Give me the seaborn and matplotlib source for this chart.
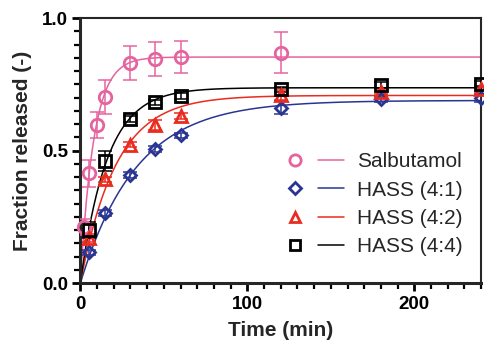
import matplotlib
matplotlib.use('Agg')
import matplotlib.pyplot as plt
from matplotlib.lines import Line2D
from matplotlib.legend_handler import HandlerTuple
from matplotlib.ticker import MultipleLocator, FormatStrFormatter
import numpy as np
import pandas as pd
import seaborn as sns

# release data
t_salb = [2, 5, 10, 15, 30, 45, 60, 120]
y_salb = [0.212, 0.414, 0.596, 0.703, 0.831, 0.845, 0.854, 0.870]
e_salb = [0.03, 0.05, 0.048, 0.064, 0.065, 0.064, 0.06, 0.077]

t_hass = [5, 15, 30, 45, 60, 120, 180, 240]
y_41 = [0.116, 0.265, 0.408, 0.506, 0.558, 0.662, 0.693, 0.699]
e_41 = [0.01, 0.01, 0.01, 0.01, 0.01, 0.025, 0.01, 0.015]
y_42 = [0.171, 0.391, 0.523, 0.596, 0.631, 0.709, 0.722, 0.731]
e_42 = [0.015, 0.01, 0.01, 0.02, 0.01, 0.02, 0.01, 0.01]
y_44 = [0.20, 0.46, 0.619, 0.682, 0.706, 0.731, 0.747, 0.753]
e_44 = [0.03, 0.038, 0.01, 0.01, 0.01, 0.01, 0.01, 0.01]

names = ['Salbutamol', 'HASS (4:1)', 'HASS (4:2)', 'HASS (4:4)']
colors = ['#e5649f', '#2a3593', '#ea2b1f', '#000000']
markers = ['o', 'D', '^', 's']
msizes = [9, 6.5, 8.5, 8.5]

series = [
    (t_salb, y_salb, e_salb),
    (t_hass, y_41, e_41),
    (t_hass, y_42, e_42),
    (t_hass, y_44, e_44),
]

rows = []
for n, (t, y, e) in zip(names, series):
    for ti, yi, ei in zip(t, y, e):
        rows.append({'series': n, 'time': ti, 'frac': yi, 'err': ei})
df = pd.DataFrame(rows)


def fit_first_order(t, y):
    # least squares fit of y = A*(1-exp(-k t)) by scanning k
    t = np.asarray(t, float)
    y = np.asarray(y, float)
    best = None
    for k in np.linspace(0.001, 1.0, 5000):
        f = 1 - np.exp(-k * t)
        a = (y * f).sum() / (f * f).sum()
        sse = ((y - a * f) ** 2).sum()
        if best is None or sse < best[0]:
            best = (sse, a, k)
    return best[1], best[2]


tt = np.linspace(0, 240, 600)
fit_rows = []
for n, (t, y, e) in zip(names, series):
    a, k = fit_first_order(t, y)
    for ti in tt:
        fit_rows.append({'series': n, 'time': ti, 'frac': a * (1 - np.exp(-k * ti))})
fits = pd.DataFrame(fit_rows)

sns.set_style('ticks')
plt.rcParams['font.family'] = ['Liberation Sans', 'DejaVu Sans']
plt.rcParams['xtick.minor.size'] = 4
plt.rcParams['ytick.minor.size'] = 4
plt.rcParams['xtick.minor.width'] = 1.6
plt.rcParams['ytick.minor.width'] = 1.6

fig = plt.figure(figsize=(4.84, 3.47), dpi=100)
ax = fig.add_axes([0.166, 0.184, 0.828, 0.764])

palette = dict(zip(names, colors))
sns.lineplot(data=fits, x='time', y='frac', hue='series', palette=palette,
             linewidth=1.1, legend=False, ax=ax, zorder=2)

for n, c, m, ms in zip(names, colors, markers, msizes):
    d = df[df.series == n]
    ax.errorbar(d.time, d.frac, yerr=d.err, fmt='none', ecolor=c,
                elinewidth=1.1, capsize=5, capthick=1.1, zorder=3)
    ax.plot(d.time, d.frac, linestyle='none', marker=m, markersize=ms,
            markerfacecolor='none', markeredgecolor=c, markeredgewidth=2,
            zorder=4, clip_on=False)

ax.set_xlim(0, 240)
ax.set_ylim(0, 1.0)
ax.xaxis.set_major_locator(MultipleLocator(100))
ax.xaxis.set_minor_locator(MultipleLocator(10))
ax.yaxis.set_major_locator(MultipleLocator(0.5))
ax.yaxis.set_minor_locator(MultipleLocator(0.05))
ax.yaxis.set_major_formatter(FormatStrFormatter('%.1f'))

for side in ['left', 'bottom']:
    ax.spines[side].set_linewidth(2.2)
for side in ['top', 'right']:
    ax.spines[side].set_linewidth(1.5)
ax.tick_params(which='major', length=6, width=2, labelsize=13.5, pad=3,
               color='black', labelcolor='black')
ax.xaxis.set_tick_params(which='minor', size=4, width=1.6, color='black', bottom=True)
ax.yaxis.set_tick_params(which='minor', size=4, width=1.6, color='black', left=True)
for lab in ax.get_xticklabels() + ax.get_yticklabels():
    lab.set_fontweight('bold')

ax.set_xlabel('Time (min)', fontsize=15, fontweight='bold', labelpad=6)
ax.set_ylabel('Fraction released (-)', fontsize=15, fontweight='bold', labelpad=7)

handles = []
for c, m, ms in zip(colors, markers, msizes):
    mk = Line2D([], [], linestyle='none', marker=m, markersize=ms * 0.9,
                markerfacecolor='none', markeredgecolor=c, markeredgewidth=2)
    ln = Line2D([], [], color=c, linewidth=1.1)
    handles.append((mk, ln))
ax.legend(handles, names, handler_map={tuple: HandlerTuple(ndivide=None, pad=0.5)},
          loc='lower right', bbox_to_anchor=(1.0, 0.03), frameon=False,
          fontsize=15, handlelength=3.0, handletextpad=0.6, labelspacing=0.45)

fig.savefig('out.png', dpi=100)
